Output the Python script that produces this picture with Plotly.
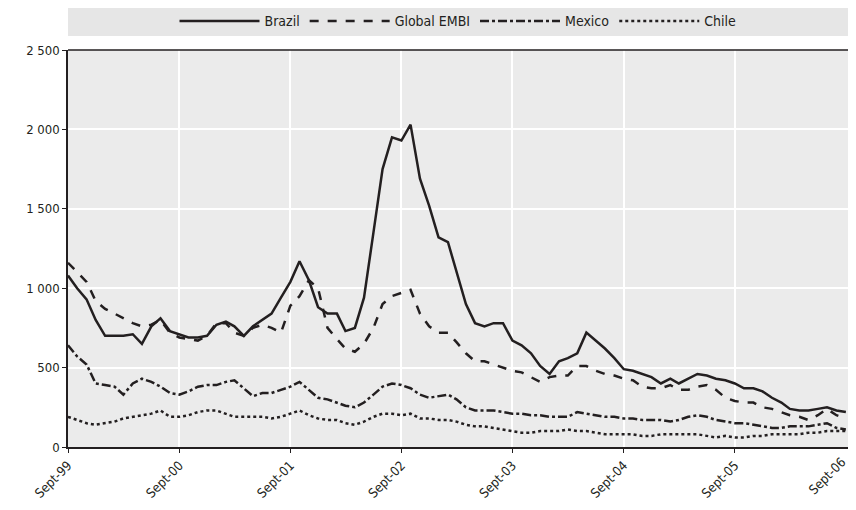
import pandas as pd
import plotly.graph_objects as go

dates = pd.date_range("1999-09-01", periods=85, freq="MS")
brazil = [1080,1000,930,800,700,700,700,710,650,760,810,730,710,690,690,700,770,790,760,700,760,800,840,940,1040,1170,1050,
          880,840,840,730,750,940,1350,1750,1950,1930,2030,1690,1520,1320,1290,1100,900,780,760,780,780,
          670,640,590,510,460,540,560,590,720,670,620,560,490,
          480,460,440,400,430,400,430,460,450,430,420,400,
          370,370,350,310,280,240,230,230,240,250,230,220]
embi = [1160,1100,1040,920,870,840,810,780,760,770,800,720,690,680,670,700,780,780,720,700,750,770,750,720,
        890,950,1050,1000,750,680,620,600,650,750,900,950,970,990,840,760,720,720,660,590,540,540,520,500,
        480,470,440,410,440,450,450,510,510,480,460,450,430,
        420,380,370,370,390,360,360,380,390,360,310,290,280,280,250,240,220,200,190,170,200,240,200,180]
mexico = [640,570,520,400,390,380,330,400,430,410,380,340,330,350,380,390,390,410,420,370,320,340,340,360,
          380,410,360,310,300,280,260,250,280,330,380,400,390,370,330,310,320,330,300,250,230,230,230,220,
          210,210,200,200,190,190,190,220,210,200,190,190,180,
          180,170,170,170,160,170,190,200,190,170,160,150,150,140,130,120,120,130,130,130,140,150,120,110]
chile = [190,170,150,140,150,160,180,190,200,210,230,190,190,200,220,230,230,210,190,190,190,190,180,190,
         210,230,200,180,170,170,150,140,160,190,210,210,200,210,180,180,170,170,160,140,130,130,120,110,
         100,90,90,100,100,100,110,100,100,90,80,80,80,
         80,70,70,80,80,80,80,80,70,60,70,60,60,70,70,80,80,80,80,90,90,100,100,100]
tick_dates = ["1999-09-01","2000-09-01","2001-09-01","2002-09-01","2003-09-01","2004-09-01","2005-09-01","2006-09-01"]
tick_labels = ["Sept-99","Sept-00","Sept-01","Sept-02","Sept-03","Sept-04","Sept-05","Sept-06"]

series = [("Brazil", brazil, "solid"), ("Global EMBI", embi, "dash"),
          ("Mexico", mexico, "dashdot"), ("Chile", chile, "dot")]
fig = go.Figure()
for name, vals, dash in series:
    fig.add_trace(go.Scatter(x=dates, y=vals, name=name, mode="lines",
                             line=dict(color="#231f20", width=2.5, dash=dash)))

FONT = "DejaVu Sans Condensed, Liberation Sans Narrow, Arial Narrow, sans-serif"
fig.update_layout(
    width=840, height=494, paper_bgcolor="white", plot_bgcolor="#ebebeb",
    margin=dict(l=60, r=0, t=42, b=55, autoexpand=False),
    font=dict(family=FONT, size=13, color="#231f20"),
    showlegend=True,
    legend=dict(orientation="h", x=0.5, xanchor="center", y=1.072, yanchor="middle",
                bgcolor="rgba(0,0,0,0)", font=dict(size=14), itemwidth=80, tracegroupgap=0),
    shapes=[dict(type="rect", xref="paper", yref="paper", x0=0, x1=1, y0=1.035, y1=1.11,
                 fillcolor="#e6e6e6", line=dict(width=0), layer="below"),
            dict(type="line", xref="paper", yref="paper", x0=0, x1=1, y0=1, y1=1,
                 line=dict(color="#231f20", width=1.5))],
    annotations=[dict(x=tick_dates[-1], y=0, xref="x", yref="paper", text=tick_labels[-1],
                      showarrow=False, textangle=-45, xanchor="right", yanchor="top",
                      xshift=6, yshift=-4, font=dict(size=13))],
    xaxis=dict(range=["1999-09-01", "2006-09-08"], tickvals=tick_dates[:-1], ticktext=tick_labels[:-1],
               tickangle=-45, showgrid=True, gridcolor="white", gridwidth=2,
               showline=True, linecolor="#231f20", linewidth=1.5, ticks="outside",
               ticklen=4, tickcolor="#231f20", zeroline=False),
    yaxis=dict(range=[0, 2500], tickvals=[0,500,1000,1500,2000,2500],
               ticktext=["0","500","1 000","1 500","2 000","2 500"],
               showgrid=True, gridcolor="white", gridwidth=2,
               showline=True, linecolor="#231f20", linewidth=1.5, ticks="outside",
               ticklen=4, tickcolor="#231f20", zeroline=False),
)
fig.write_html("out.html")
